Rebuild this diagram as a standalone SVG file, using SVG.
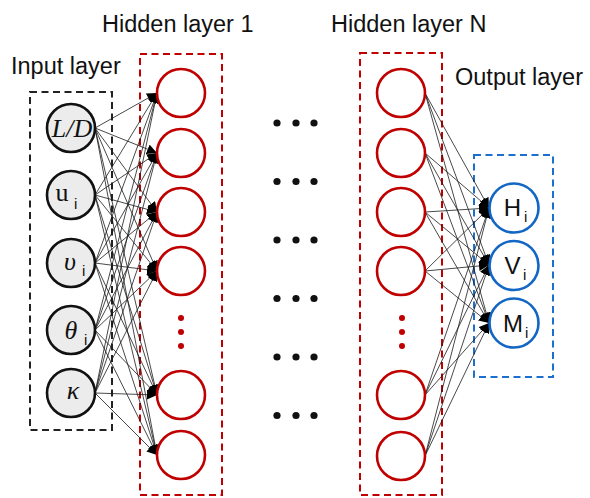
<svg xmlns="http://www.w3.org/2000/svg" width="590" height="498" viewBox="0 0 590 498">
  <style>
    .title { font-family: "Liberation Sans", Arial, sans-serif; font-size: 23.5px; fill: #111; }
    .box { fill: none; stroke-width: 2; stroke-dasharray: 7 4.5; }
    .in { fill: #ececec; stroke: #111; stroke-width: 2.6; }
    .hid { fill: #fff; stroke: #c00000; stroke-width: 2.6; }
    .out { fill: #fff; stroke: #1266c4; stroke-width: 2.6; }
    .serif { font-family: "Liberation Serif", "Times New Roman", serif; font-size: 26px; fill: #111; }
    .sans { font-family: "Liberation Sans", Arial, sans-serif; font-size: 24px; fill: #111; }
    .sub { font-family: "Liberation Sans", Arial, sans-serif; font-size: 15px; fill: #111; }
    .edge { stroke: #1a1a1a; stroke-width: 0.8; fill: none; marker-end: url(#head); }
    .dot { fill: #111; }
    .rdot { fill: #c00000; }
  </style>
  <defs>
    <marker id="head" markerUnits="userSpaceOnUse" markerWidth="11" markerHeight="10" refX="10" refY="5" orient="auto">
      <path d="M0,0 L10,5 L0,10 z" fill="#000"/>
    </marker>
  </defs>

  <!-- layer titles -->
  <text class="title" x="102" y="32">Hidden layer 1</text>
  <text class="title" x="331" y="32">Hidden layer N</text>
  <text class="title" x="11" y="74">Input layer</text>
  <text class="title" x="455" y="85">Output layer</text>

  <!-- layer frames -->
  <rect class="box" x="30" y="92" width="82" height="338" stroke="#222"/>
  <rect class="box" x="140" y="54" width="82" height="441" stroke="#c00000"/>
  <rect class="box" x="360" y="53" width="82" height="442" stroke="#c00000"/>
  <rect class="box" x="474" y="155" width="79" height="222" stroke="#1a6fcf"/>

  <!-- connectors -->
  <g id="connectors">
    <!-- input layer -> hidden layer 1 -->
    <g id="in-to-h1">
      <path class="edge" d="M95,128 L157,93"/><path class="edge" d="M95,128 L157,153"/><path class="edge" d="M95,128 L157,212"/><path class="edge" d="M95,128 L157,271"/><path class="edge" d="M95,128 L157,395"/><path class="edge" d="M95,128 L157,455"/>
      <path class="edge" d="M95,195 L157,93"/><path class="edge" d="M95,195 L157,153"/><path class="edge" d="M95,195 L157,212"/><path class="edge" d="M95,195 L157,271"/><path class="edge" d="M95,195 L157,395"/><path class="edge" d="M95,195 L157,455"/>
      <path class="edge" d="M95,263 L157,93"/><path class="edge" d="M95,263 L157,153"/><path class="edge" d="M95,263 L157,212"/><path class="edge" d="M95,263 L157,271"/><path class="edge" d="M95,263 L157,395"/><path class="edge" d="M95,263 L157,455"/>
      <path class="edge" d="M95,330 L157,93"/><path class="edge" d="M95,330 L157,153"/><path class="edge" d="M95,330 L157,212"/><path class="edge" d="M95,330 L157,271"/><path class="edge" d="M95,330 L157,395"/><path class="edge" d="M95,330 L157,455"/>
      <path class="edge" d="M95,393 L157,93"/><path class="edge" d="M95,393 L157,153"/><path class="edge" d="M95,393 L157,212"/><path class="edge" d="M95,393 L157,271"/><path class="edge" d="M95,393 L157,395"/><path class="edge" d="M95,393 L157,455"/>
    </g>
    <!-- hidden layer N -> output layer -->
    <g id="hN-to-out">
      <path class="edge" d="M425,93 L489,208"/><path class="edge" d="M425,93 L489,265"/><path class="edge" d="M425,93 L489,323"/>
      <path class="edge" d="M425,153 L489,208"/><path class="edge" d="M425,153 L489,265"/><path class="edge" d="M425,153 L489,323"/>
      <path class="edge" d="M425,212 L489,208"/><path class="edge" d="M425,212 L489,265"/><path class="edge" d="M425,212 L489,323"/>
      <path class="edge" d="M425,271 L489,208"/><path class="edge" d="M425,271 L489,265"/><path class="edge" d="M425,271 L489,323"/>
      <path class="edge" d="M425,395 L489,208"/><path class="edge" d="M425,395 L489,265"/><path class="edge" d="M425,395 L489,323"/>
      <path class="edge" d="M425,456 L489,208"/><path class="edge" d="M425,456 L489,265"/><path class="edge" d="M425,456 L489,323"/>
    </g>
  </g>

  <!-- input nodes -->
  <g id="in-LD"><circle class="in" cx="71" cy="128" r="24"/><text class="serif" x="72" y="137" text-anchor="middle" font-style="italic">L/D</text></g>
  <g id="in-u"><circle class="in" cx="71" cy="195" r="24"/><text class="serif" x="62" y="201" text-anchor="middle" font-size="28">u</text><text class="sub" x="74" y="209">i</text></g>
  <g id="in-v"><circle class="in" cx="71" cy="263" r="24"/><text class="serif" x="70" y="270" text-anchor="middle" font-style="italic" font-size="27">υ</text><text class="sub" x="82" y="276">i</text></g>
  <g id="in-theta"><circle class="in" cx="71" cy="330" r="24"/><text class="serif" x="71" y="339" text-anchor="middle" font-style="italic" font-size="27">θ</text><text class="sub" x="84" y="345">i</text></g>
  <g id="in-kappa"><circle class="in" cx="71" cy="393" r="24"/><text class="serif" x="73" y="399" text-anchor="middle" font-style="italic" font-size="28">κ</text></g>

  <!-- hidden layer 1 nodes -->
  <g id="h1-1"><circle class="hid" cx="181" cy="93" r="24"/></g>
  <g id="h1-2"><circle class="hid" cx="181" cy="153" r="24"/></g>
  <g id="h1-3"><circle class="hid" cx="181" cy="212" r="24"/></g>
  <g id="h1-4"><circle class="hid" cx="181" cy="271" r="24"/></g>
  <g id="h1-dots"><circle class="rdot" cx="181" cy="318" r="3"/><circle class="rdot" cx="181" cy="332" r="3"/><circle class="rdot" cx="181" cy="346" r="3"/></g>
  <g id="h1-5"><circle class="hid" cx="181" cy="395" r="24"/></g>
  <g id="h1-6"><circle class="hid" cx="181" cy="455" r="24"/></g>

  <!-- ellipsis between hidden layers -->
  <g id="between">
    <circle class="dot" cx="277" cy="123" r="3.6"/><circle class="dot" cx="296" cy="123" r="3.6"/><circle class="dot" cx="314" cy="123" r="3.6"/>
    <circle class="dot" cx="277" cy="181.5" r="3.6"/><circle class="dot" cx="296" cy="181.5" r="3.6"/><circle class="dot" cx="314" cy="181.5" r="3.6"/>
    <circle class="dot" cx="277" cy="240" r="3.6"/><circle class="dot" cx="296" cy="240" r="3.6"/><circle class="dot" cx="314" cy="240" r="3.6"/>
    <circle class="dot" cx="277" cy="298.5" r="3.6"/><circle class="dot" cx="296" cy="298.5" r="3.6"/><circle class="dot" cx="314" cy="298.5" r="3.6"/>
    <circle class="dot" cx="277" cy="357" r="3.6"/><circle class="dot" cx="296" cy="357" r="3.6"/><circle class="dot" cx="314" cy="357" r="3.6"/>
    <circle class="dot" cx="277" cy="415.5" r="3.6"/><circle class="dot" cx="296" cy="415.5" r="3.6"/><circle class="dot" cx="314" cy="415.5" r="3.6"/>
  </g>

  <!-- hidden layer N nodes -->
  <g id="hN-1"><circle class="hid" cx="401" cy="93" r="24"/></g>
  <g id="hN-2"><circle class="hid" cx="401" cy="153" r="24"/></g>
  <g id="hN-3"><circle class="hid" cx="401" cy="212" r="24"/></g>
  <g id="hN-4"><circle class="hid" cx="401" cy="271" r="24"/></g>
  <g id="hN-dots"><circle class="rdot" cx="402" cy="318" r="3"/><circle class="rdot" cx="402" cy="332" r="3"/><circle class="rdot" cx="402" cy="346" r="3"/></g>
  <g id="hN-5"><circle class="hid" cx="401" cy="395" r="24"/></g>
  <g id="hN-6"><circle class="hid" cx="401" cy="456" r="24"/></g>

  <!-- output nodes -->
  <g id="out-H"><circle class="out" cx="514" cy="208" r="24.5"/><text class="sans" x="512.5" y="216" text-anchor="middle">H</text><text class="sub" x="524" y="222">i</text></g>
  <g id="out-V"><circle class="out" cx="514" cy="265.5" r="24.5"/><text class="sans" x="512.5" y="274" text-anchor="middle">V</text><text class="sub" x="523" y="280">i</text></g>
  <g id="out-M"><circle class="out" cx="514" cy="323" r="24.5"/><text class="sans" x="513" y="332" text-anchor="middle">M</text><text class="sub" x="525" y="338">i</text></g>
</svg>
